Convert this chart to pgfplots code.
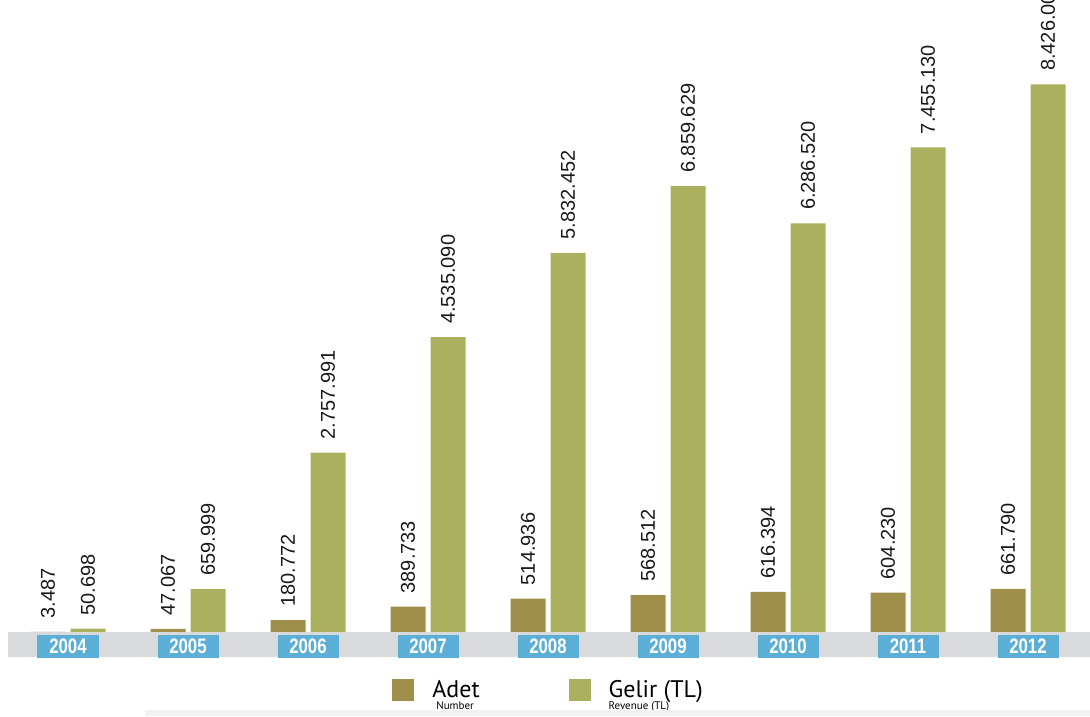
\documentclass[border=0pt]{standalone}
\usepackage{pgfplots}
\usepackage{pgfplotstable}
\pgfplotsset{compat=1.18}
\usepackage{fontspec}
\setmainfont{Liberation Sans}
\newfontfamily\legfont{PT Sans}

\definecolor{adetcol}{HTML}{A08F4B}
\definecolor{gelircol}{HTML}{ABB05E}
\definecolor{yearbox}{HTML}{5BAED6}
\definecolor{band}{HTML}{D9DADB}

% Adet (number of units)
\pgfplotstableread{
x y lab
0 3487 3.487
1 47067 47.067
2 180772 180.772
3 389733 389.733
4 514936 514.936
5 568512 568.512
6 616394 616.394
7 604230 604.230
8 661790 661.790
}\adet

% Gelir (revenue, TL)
\pgfplotstableread{
x y lab
0 50698 50.698
1 659999 659.999
2 2757991 2.757.991
3 4535090 4.535.090
4 5832452 5.832.452
5 6859629 6.859.629
6 6286520 6.286.520
7 7455130 7.455.130
8 8426000 8.426.000
}\gelir

\newcommand{\yr}[1]{\scalebox{0.8}[1]{#1}}
\tikzset{vlabel/.style={xshift=#1, rotate=90, anchor=west, inner xsep=6.5pt, inner ysep=0pt,
    font=\fontsize{10}{12}\selectfont, text=black!90}}

\begin{document}
\begin{tikzpicture}
% grey strip under the bars
\fill[band] (4pt,29.5pt) rectangle (545pt,42pt);

\begin{axis}[
  at={(4pt,29.5pt)}, anchor=south west,
  scale only axis,
  width=541pt, height=328.5pt,
  xmin=-0.5, xmax=8.5167,
  ymin=-384615, ymax=9723077,
  enlargelimits=false,
  clip=false,
  axis line style={draw=none},
  tick style={draw=none},
  major tick length=0pt,
  ytick=\empty,
  xtick={0,...,8},
  xticklabels={\yr{2004},\yr{2005},\yr{2006},\yr{2007},\yr{2008},\yr{2009},\yr{2010},\yr{2011},\yr{2012}},
  xticklabel style={anchor=center, yshift=5.25pt, fill=yearbox, text=white,
    minimum width=30.5pt, minimum height=11.5pt, inner sep=0pt,
    font=\fontsize{10.5}{11}\selectfont\bfseries},
  bar width=17.5pt,
  nodes near coords={\pgfplotspointmeta},
  point meta=explicit symbolic,
  legend columns=2,
  legend style={at={(axis description cs:0.3549,-0.0502)}, anchor=west,
    draw=none, fill=none, inner sep=0pt,
    font=\legfont\fontsize{12}{13}\selectfont,
    nodes={inner sep=0pt},
    /tikz/every odd column/.append style={column sep=9pt},
    /tikz/every even column/.append style={column sep=44.5pt}},
  legend image code/.code={\fill[#1] (0pt,-5.5pt) rectangle (11pt,5.5pt);},
]
\addplot[ybar, bar shift=-10pt, fill=adetcol, draw=none,
  nodes near coords style={vlabel=-10pt}]
  table[x=x, y=y, meta=lab] {\adet};
\addlegendentry{\rlap{\raisebox{-6pt}{\fontsize{5.5}{6}\selectfont\hspace{2pt}Number}}Adet}

\addplot[ybar, bar shift=10pt, fill=gelircol, draw=none,
  nodes near coords style={vlabel=10pt}]
  table[x=x, y=y, meta=lab] {\gelir};
\addlegendentry{\rlap{\raisebox{-6pt}{\fontsize{5.5}{6}\selectfont Revenue (TL)}}Gelir (TL)}
\end{axis}

% faint shadow along the lower edge
\fill[black!5] (72.5pt,0pt) rectangle (545pt,3pt);

\pgfresetboundingbox
\path[use as bounding box] (0,0) rectangle (545pt,358pt);
\end{tikzpicture}
\end{document}
